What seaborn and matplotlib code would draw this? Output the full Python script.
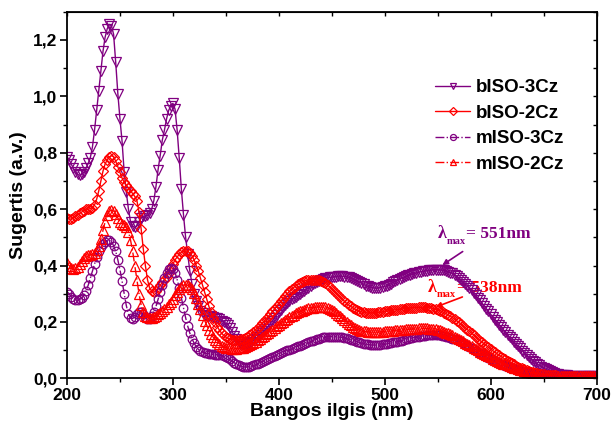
import numpy as np
import pandas as pd
import matplotlib
matplotlib.use("Agg")
import matplotlib.pyplot as plt
import seaborn as sns
from matplotlib.ticker import MultipleLocator, FuncFormatter

# ---------------- data (absorbance, every 2 nm) ----------------
wl = list(range(200, 701, 2))

b3cz = [0.786, 0.775, 0.760, 0.745, 0.732, 0.723, 0.720, 0.723, 0.732, 0.745,
        0.762, 0.782, 0.820, 0.880, 0.950, 1.020, 1.090, 1.160, 1.210, 1.240,
        1.255, 1.250, 1.220, 1.120, 1.010, 0.920, 0.840, 0.730, 0.660, 0.600,
        0.555, 0.540, 0.535, 0.540, 0.555, 0.570, 0.575, 0.575, 0.578, 0.585,
        0.600, 0.630, 0.680, 0.740, 0.790, 0.845, 0.880, 0.920, 0.950, 0.967,
        0.975, 0.955, 0.880, 0.780, 0.670, 0.580, 0.500, 0.440, 0.380, 0.335,
        0.300, 0.275, 0.255, 0.240, 0.230, 0.225, 0.222, 0.220, 0.220, 0.218,
        0.215, 0.213, 0.210, 0.205, 0.200, 0.195, 0.190, 0.180, 0.165, 0.150,
        0.138, 0.128, 0.122, 0.120, 0.120, 0.122, 0.125, 0.130, 0.135, 0.140,
        0.147, 0.153, 0.160, 0.167, 0.175, 0.185, 0.195, 0.205, 0.215, 0.225,
        0.235, 0.244, 0.252, 0.260, 0.268, 0.274, 0.280, 0.285, 0.290, 0.295,
        0.300, 0.305, 0.310, 0.316, 0.322, 0.328, 0.333, 0.338, 0.342, 0.346,
        0.350, 0.353, 0.355, 0.357, 0.358, 0.359, 0.360, 0.361, 0.362, 0.362,
        0.362, 0.361, 0.360, 0.358, 0.356, 0.353, 0.350, 0.346, 0.342, 0.337,
        0.333, 0.329, 0.326, 0.324, 0.322, 0.321, 0.320, 0.321, 0.322, 0.324,
        0.326, 0.329, 0.332, 0.336, 0.340, 0.344, 0.348, 0.352, 0.356, 0.359,
        0.362, 0.365, 0.368, 0.370, 0.372, 0.374, 0.376, 0.378, 0.379, 0.381,
        0.382, 0.383, 0.384, 0.385, 0.385, 0.385, 0.385, 0.384, 0.383, 0.381,
        0.378, 0.375, 0.372, 0.367, 0.362, 0.356, 0.350, 0.343, 0.336, 0.328,
        0.320, 0.312, 0.303, 0.294, 0.285, 0.276, 0.266, 0.256, 0.246, 0.237,
        0.227, 0.218, 0.208, 0.199, 0.190, 0.181, 0.172, 0.163, 0.154, 0.146,
        0.138, 0.130, 0.122, 0.114, 0.106, 0.098, 0.090, 0.083, 0.076, 0.069,
        0.063, 0.057, 0.051, 0.046, 0.041, 0.036, 0.032, 0.028, 0.025, 0.022,
        0.019, 0.017, 0.015, 0.013, 0.012, 0.011, 0.010, 0.009, 0.009, 0.008,
        0.008, 0.008, 0.007, 0.007, 0.007, 0.007, 0.007, 0.007, 0.007, 0.007,
        0.007]

b2cz = [0.568, 0.565, 0.565, 0.570, 0.575, 0.580, 0.585, 0.590, 0.595, 0.600,
        0.600, 0.602, 0.605, 0.615, 0.635, 0.665, 0.700, 0.735, 0.760, 0.775,
        0.785, 0.790, 0.785, 0.770, 0.750, 0.730, 0.710, 0.695, 0.685, 0.675,
        0.665, 0.655, 0.645, 0.630, 0.590, 0.530, 0.460, 0.400, 0.350, 0.320,
        0.310, 0.305, 0.310, 0.320, 0.330, 0.340, 0.350, 0.360, 0.375, 0.390,
        0.405, 0.420, 0.430, 0.440, 0.447, 0.450, 0.452, 0.450, 0.445, 0.435,
        0.420, 0.400, 0.380, 0.355, 0.330, 0.305, 0.280, 0.255, 0.235, 0.215,
        0.198, 0.183, 0.170, 0.160, 0.152, 0.146, 0.142, 0.139, 0.137, 0.136,
        0.136, 0.136, 0.138, 0.140, 0.143, 0.147, 0.152, 0.158, 0.165, 0.172,
        0.180, 0.187, 0.195, 0.202, 0.210, 0.219, 0.228, 0.237, 0.246, 0.256,
        0.265, 0.274, 0.283, 0.292, 0.300, 0.308, 0.315, 0.322, 0.328, 0.333,
        0.338, 0.342, 0.345, 0.347, 0.349, 0.350, 0.350, 0.350, 0.349, 0.347,
        0.345, 0.341, 0.337, 0.331, 0.325, 0.318, 0.310, 0.302, 0.295, 0.287,
        0.280, 0.273, 0.266, 0.260, 0.255, 0.250, 0.245, 0.241, 0.238, 0.236,
        0.234, 0.233, 0.232, 0.232, 0.232, 0.232, 0.233, 0.234, 0.235, 0.236,
        0.237, 0.238, 0.240, 0.241, 0.242, 0.243, 0.244, 0.245, 0.246, 0.247,
        0.248, 0.249, 0.250, 0.250, 0.251, 0.251, 0.252, 0.252, 0.252, 0.252,
        0.251, 0.250, 0.249, 0.247, 0.245, 0.243, 0.240, 0.237, 0.233, 0.229,
        0.225, 0.220, 0.215, 0.210, 0.204, 0.198, 0.192, 0.186, 0.180, 0.173,
        0.167, 0.160, 0.154, 0.147, 0.141, 0.134, 0.128, 0.122, 0.116, 0.110,
        0.104, 0.098, 0.093, 0.087, 0.082, 0.077, 0.072, 0.067, 0.062, 0.057,
        0.053, 0.049, 0.045, 0.041, 0.038, 0.035, 0.032, 0.029, 0.027, 0.024,
        0.022, 0.020, 0.018, 0.016, 0.015, 0.014, 0.013, 0.012, 0.011, 0.010,
        0.010, 0.009, 0.009, 0.009, 0.009, 0.008, 0.008, 0.008, 0.008, 0.008,
        0.008, 0.008, 0.008, 0.008, 0.008, 0.008, 0.008, 0.008, 0.008, 0.008,
        0.008]

m3cz = [0.307, 0.300, 0.290, 0.283, 0.279, 0.278, 0.280, 0.285, 0.295, 0.310,
        0.330, 0.355, 0.380, 0.405, 0.430, 0.450, 0.465, 0.477, 0.485, 0.490,
        0.490, 0.485, 0.470, 0.450, 0.420, 0.385, 0.345, 0.300, 0.258, 0.228,
        0.215, 0.212, 0.218, 0.228, 0.236, 0.236, 0.228, 0.216, 0.210, 0.212,
        0.220, 0.235, 0.255, 0.280, 0.305, 0.330, 0.355, 0.375, 0.388, 0.392,
        0.388, 0.375, 0.350, 0.320, 0.285, 0.250, 0.215, 0.185, 0.160, 0.140,
        0.125, 0.112, 0.103, 0.097, 0.093, 0.090, 0.088, 0.087, 0.086, 0.085,
        0.084, 0.083, 0.082, 0.081, 0.079, 0.076, 0.072, 0.067, 0.061, 0.055,
        0.050, 0.046, 0.043, 0.041, 0.040, 0.040, 0.041, 0.043, 0.046, 0.049,
        0.052, 0.055, 0.058, 0.062, 0.065, 0.069, 0.072, 0.076, 0.079, 0.083,
        0.086, 0.090, 0.093, 0.096, 0.099, 0.102, 0.105, 0.108, 0.110, 0.113,
        0.116, 0.119, 0.122, 0.125, 0.128, 0.131, 0.134, 0.137, 0.139, 0.141,
        0.143, 0.145, 0.146, 0.147, 0.147, 0.148, 0.148, 0.148, 0.147, 0.146,
        0.145, 0.144, 0.142, 0.140, 0.137, 0.135, 0.132, 0.130, 0.127, 0.125,
        0.123, 0.121, 0.120, 0.119, 0.118, 0.118, 0.118, 0.118, 0.119, 0.120,
        0.121, 0.122, 0.124, 0.125, 0.127, 0.128, 0.130, 0.132, 0.134, 0.136,
        0.138, 0.140, 0.142, 0.143, 0.145, 0.146, 0.148, 0.149, 0.150, 0.151,
        0.152, 0.152, 0.153, 0.153, 0.153, 0.153, 0.152, 0.151, 0.150, 0.148,
        0.146, 0.144, 0.141, 0.138, 0.135, 0.132, 0.128, 0.124, 0.120, 0.116,
        0.112, 0.107, 0.103, 0.098, 0.094, 0.089, 0.085, 0.080, 0.076, 0.072,
        0.068, 0.064, 0.060, 0.056, 0.053, 0.049, 0.046, 0.043, 0.040, 0.037,
        0.035, 0.032, 0.030, 0.028, 0.026, 0.024, 0.022, 0.020, 0.019, 0.017,
        0.016, 0.015, 0.014, 0.013, 0.012, 0.012, 0.011, 0.011, 0.010, 0.010,
        0.009, 0.009, 0.009, 0.009, 0.008, 0.008, 0.008, 0.008, 0.008, 0.008,
        0.008, 0.008, 0.008, 0.008, 0.008, 0.008, 0.008, 0.008, 0.008, 0.008,
        0.008]

m2cz = [0.408, 0.400, 0.392, 0.388, 0.390, 0.395, 0.405, 0.415, 0.425, 0.432,
        0.436, 0.438, 0.440, 0.445, 0.455, 0.470, 0.495, 0.525, 0.555, 0.578,
        0.592, 0.597, 0.593, 0.582, 0.568, 0.556, 0.548, 0.542, 0.535, 0.520,
        0.490, 0.450, 0.400, 0.350, 0.300, 0.260, 0.235, 0.222, 0.216, 0.214,
        0.215, 0.218, 0.222, 0.227, 0.232, 0.238, 0.245, 0.253, 0.262, 0.272,
        0.283, 0.295, 0.307, 0.317, 0.325, 0.330, 0.332, 0.330, 0.325, 0.315,
        0.302, 0.285, 0.265, 0.245, 0.225, 0.205, 0.188, 0.172, 0.158, 0.146,
        0.136, 0.128, 0.121, 0.116, 0.112, 0.109, 0.107, 0.106, 0.105, 0.105,
        0.105, 0.106, 0.107, 0.109, 0.111, 0.114, 0.117, 0.121, 0.125, 0.130,
        0.135, 0.140, 0.145, 0.150, 0.156, 0.161, 0.167, 0.172, 0.178, 0.184,
        0.190, 0.196, 0.201, 0.207, 0.212, 0.217, 0.222, 0.226, 0.230, 0.234,
        0.237, 0.240, 0.243, 0.246, 0.248, 0.250, 0.251, 0.252, 0.253, 0.254,
        0.254, 0.253, 0.252, 0.250, 0.247, 0.243, 0.238, 0.232, 0.226, 0.220,
        0.213, 0.206, 0.200, 0.194, 0.188, 0.183, 0.178, 0.174, 0.171, 0.169,
        0.167, 0.166, 0.165, 0.164, 0.164, 0.164, 0.164, 0.164, 0.165, 0.165,
        0.166, 0.167, 0.168, 0.168, 0.169, 0.170, 0.171, 0.171, 0.172, 0.173,
        0.174, 0.174, 0.175, 0.175, 0.176, 0.176, 0.177, 0.177, 0.177, 0.177,
        0.177, 0.176, 0.176, 0.175, 0.174, 0.172, 0.170, 0.168, 0.165, 0.162,
        0.159, 0.156, 0.152, 0.148, 0.144, 0.140, 0.135, 0.131, 0.126, 0.122,
        0.117, 0.113, 0.108, 0.104, 0.099, 0.095, 0.090, 0.086, 0.082, 0.078,
        0.074, 0.070, 0.066, 0.063, 0.059, 0.056, 0.052, 0.049, 0.046, 0.043,
        0.040, 0.037, 0.035, 0.032, 0.030, 0.028, 0.026, 0.024, 0.022, 0.021,
        0.019, 0.018, 0.016, 0.015, 0.014, 0.013, 0.012, 0.012, 0.011, 0.011,
        0.010, 0.010, 0.009, 0.009, 0.009, 0.008, 0.008, 0.008, 0.008, 0.008,
        0.008, 0.008, 0.008, 0.008, 0.008, 0.008, 0.008, 0.008, 0.008, 0.008,
        0.008]

series_names = ["bISO-3Cz", "bISO-2Cz", "mISO-3Cz", "mISO-2Cz"]
series_values = [b3cz, b2cz, m3cz, m2cz]

x_ticks = [200, 300, 400, 500, 600, 700]
y_ticks = [0.0, 0.2, 0.4, 0.6, 0.8, 1.0, 1.2]

# ---------------- style ----------------
sns.set_style("ticks")
plt.rcParams["font.family"] = ["Liberation Sans", "DejaVu Sans"]
plt.rcParams["font.weight"] = "bold"
for k in ["text.color", "axes.labelcolor", "xtick.color", "ytick.color",
          "axes.edgecolor"]:
    plt.rcParams[k] = "black"

PURPLE = "#800080"
RED = "#FF0000"
styles = {
    "bISO-3Cz": dict(color=PURPLE, marker="v", ls="-", ms=7.0),
    "bISO-2Cz": dict(color=RED, marker="D", ls="-", ms=5.5),
    "mISO-3Cz": dict(color=PURPLE, marker="o", ls="-.", ms=6.2),
    "mISO-2Cz": dict(color=RED, marker="^", ls="-.", ms=7.0),
}

fig = plt.figure(figsize=(6.13, 4.28), dpi=100)
ax = fig.add_axes([0.1093, 0.1161, 0.8638, 0.8565])

for name, vals in zip(series_names, series_values):
    st = styles[name]
    df = pd.DataFrame({"wl": wl, "A": vals})
    sns.lineplot(data=df, x="wl", y="A", ax=ax, color=st["color"],
                 marker=st["marker"], markersize=st["ms"],
                 markerfacecolor="none", markeredgecolor=st["color"],
                 markeredgewidth=0.9, linestyle=st["ls"], linewidth=1.0,
                 label=name, errorbar=None, sort=False)

ax.set_xlim(200, 700)
ax.set_ylim(0, 1.3)
ax.set_xticks(x_ticks)
ax.set_yticks(y_ticks)
ax.xaxis.set_minor_locator(MultipleLocator(50))
ax.yaxis.set_minor_locator(MultipleLocator(0.1))
ax.yaxis.set_major_formatter(FuncFormatter(lambda v, p: f"{v:.1f}".replace(".", ",")))
ax.tick_params(which="major", direction="out", length=5, width=1.2,
               labelsize=12.5, pad=2, colors="black")
ax.tick_params(which="minor", direction="out", length=3, width=1.0, colors="black")
for lab in ax.get_xticklabels() + ax.get_yticklabels():
    lab.set_fontweight("bold")
for sp in ax.spines.values():
    sp.set_linewidth(1.3)
    sp.set_color("black")

top = ax.secondary_xaxis("top")
top.set_xticks(x_ticks)
top.xaxis.set_minor_locator(MultipleLocator(50))
top.tick_params(which="both", direction="in", labeltop=False, length=3, width=1.0)
right = ax.secondary_yaxis("right")
right.set_yticks(y_ticks)
right.yaxis.set_minor_locator(MultipleLocator(0.1))
right.tick_params(which="both", direction="in", labelright=False, length=3, width=1.0)

ax.set_xlabel("Bangos ilgis (nm)", fontsize=14, fontweight="bold", labelpad=0,
              color="black")
ax.set_ylabel("Sugertis (a.v.)", fontsize=14, fontweight="bold", labelpad=4,
              color="black")

leg = ax.legend(loc="upper left", bbox_to_anchor=(0.695, 0.816), frameon=False,
                handlelength=1.87, handletextpad=0.32, markerscale=0.7,
                labelspacing=0.45, borderpad=0, borderaxespad=0,
                prop={"weight": "bold", "size": 13.5})
for t in leg.get_texts():
    t.set_color("black")

# annotations
serif = ["Liberation Serif", "DejaVu Serif"]
ax.text(550.3, 0.497, "λ", color=PURPLE, fontsize=13, fontweight="bold",
        family=serif, va="baseline", zorder=1)
ax.text(558.8, 0.478, "max", color=PURPLE, fontsize=7.5, fontweight="bold",
        family=serif, va="baseline", zorder=1)
ax.text(577.0, 0.497, "= 551nm", color=PURPLE, fontsize=12.5, fontweight="bold",
        family=serif, va="baseline", zorder=1)
ax.annotate("", xy=(552.2, 0.396), xytext=(575.8, 0.455),
            arrowprops=dict(arrowstyle="-|>", color=PURPLE, lw=1.2,
                            mutation_scale=8), zorder=1)

ax.text(540.9, 0.306, "λ", color=RED, fontsize=13, fontweight="bold",
        family=serif, va="baseline", zorder=1)
ax.text(549.4, 0.287, "max", color=RED, fontsize=7.5, fontweight="bold",
        family=serif, va="baseline", zorder=1)
ax.text(568.5, 0.306, "= 538nm", color=RED, fontsize=12.5, fontweight="bold",
        family=serif, va="baseline", zorder=1)
ax.annotate("", xy=(545.6, 0.249), xytext=(575.8, 0.292),
            arrowprops=dict(arrowstyle="-|>", color=RED, lw=1.2,
                            mutation_scale=8), zorder=1)

fig.savefig("out.png", dpi=100)
